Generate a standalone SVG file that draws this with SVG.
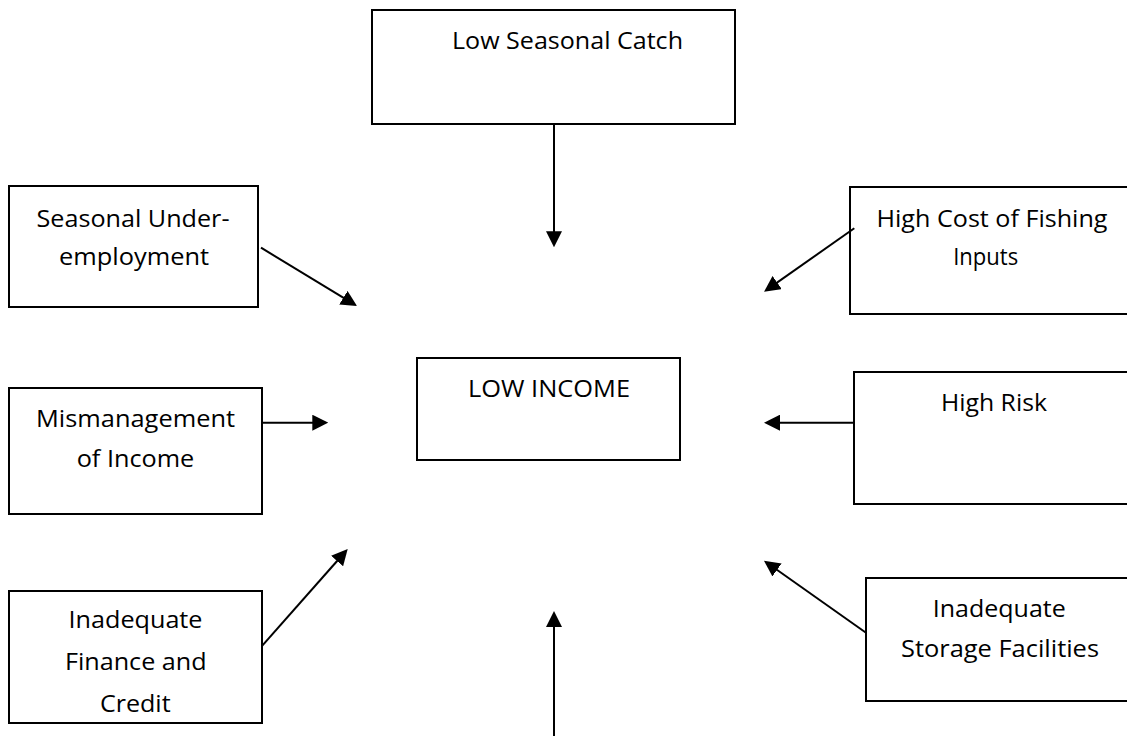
<svg xmlns="http://www.w3.org/2000/svg" width="1127" height="736" viewBox="0 0 1127 736">
<style>
.box{fill:#fff;stroke:#000;stroke-width:2}
.t{font-family:"Open Sans","Liberation Sans",sans-serif;font-size:23px;fill:#000;text-anchor:middle}
.c{stroke:#000;stroke-width:2;fill:none;marker-end:url(#ah)}
</style>
<defs>
<marker id="ah" markerUnits="userSpaceOnUse" markerWidth="16" markerHeight="16" viewBox="0 0 16 16" refX="8" refY="8" orient="auto">
<path d="M0,0 L16,8 L0,16 z" fill="#000"/>
</marker>
</defs>
<rect width="1127" height="736" fill="#fff"/>
<g id="n-low-seasonal-catch">
<rect class="box" x="372" y="10" width="363" height="114"/>
<text class="t" x="567.5" y="49" textLength="231" lengthAdjust="spacingAndGlyphs">Low Seasonal Catch</text>
</g>
<g id="n-seasonal-underemployment">
<rect class="box" x="9" y="186" width="249" height="121"/>
<text class="t" x="133" y="226.7" textLength="193" lengthAdjust="spacingAndGlyphs">Seasonal Under-</text>
<text class="t" x="134" y="265" textLength="150" lengthAdjust="spacingAndGlyphs">employment</text>
</g>
<g id="n-high-cost">
<rect class="box" x="850" y="187" width="290" height="127"/>
<text class="t" x="992" y="226.7" textLength="231" lengthAdjust="spacingAndGlyphs">High Cost of Fishing</text>
<text class="t" x="985.7" y="265" textLength="65" lengthAdjust="spacingAndGlyphs">Inputs</text>
</g>
<g id="n-low-income">
<rect class="box" x="417" y="358" width="263" height="102"/>
<text class="t" x="549" y="396.7" textLength="162" lengthAdjust="spacingAndGlyphs">LOW INCOME</text>
</g>
<g id="n-mismanagement">
<rect class="box" x="9" y="388" width="253" height="126"/>
<text class="t" x="135.5" y="426.7" textLength="199" lengthAdjust="spacingAndGlyphs">Mismanagement</text>
<text class="t" x="135.5" y="467.3" textLength="117.6" lengthAdjust="spacingAndGlyphs">of Income</text>
</g>
<g id="n-high-risk">
<rect class="box" x="854" y="372" width="290" height="132"/>
<text class="t" x="994" y="410.7" textLength="106" lengthAdjust="spacingAndGlyphs">High Risk</text>
</g>
<g id="n-finance-credit">
<rect class="box" x="9" y="591" width="253" height="132"/>
<text class="t" x="135.5" y="628.3" textLength="134" lengthAdjust="spacingAndGlyphs">Inadequate</text>
<text class="t" x="135.8" y="670" textLength="141.7" lengthAdjust="spacingAndGlyphs">Finance and</text>
<text class="t" x="135.3" y="711.7" textLength="70.7" lengthAdjust="spacingAndGlyphs">Credit</text>
</g>
<g id="n-storage">
<rect class="box" x="866" y="578" width="280" height="123"/>
<text class="t" x="999.3" y="617.3" textLength="133" lengthAdjust="spacingAndGlyphs">Inadequate</text>
<text class="t" x="1000" y="657.3" textLength="198" lengthAdjust="spacingAndGlyphs">Storage Facilities</text>
</g>
<g id="connectors">
<line class="c" x1="554" y1="124" x2="554" y2="239.3"/>
<line class="c" x1="261" y1="247.7" x2="350.2" y2="301.9"/>
<line class="c" x1="854.3" y1="228.3" x2="770.6" y2="287.1"/>
<line class="c" x1="262" y1="422.7" x2="320.3" y2="422.7"/>
<line class="c" x1="854" y1="422.7" x2="772" y2="422.7"/>
<line class="c" x1="262.3" y1="645.7" x2="342.4" y2="555"/>
<line class="c" x1="866" y1="632.7" x2="770.5" y2="565.3"/>
<line class="c" x1="554" y1="736" x2="554" y2="619"/>
</g>
</svg>
